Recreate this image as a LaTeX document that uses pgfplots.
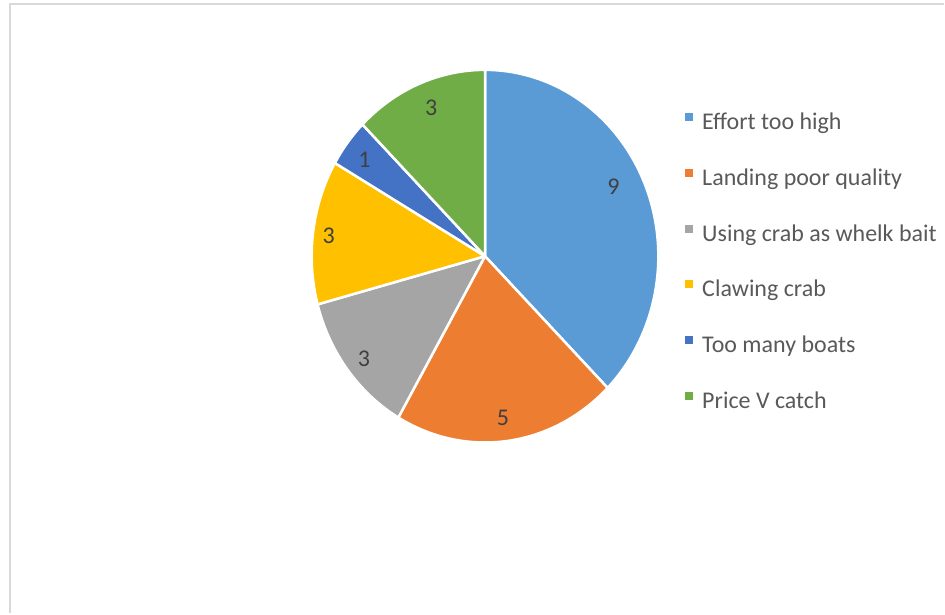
\documentclass[border=0pt]{standalone}
\usepackage{fontspec}
\setmainfont{Carlito}
\usepackage{pgfplots}
\usepackage{pgfplotstable}
\pgfplotsset{compat=1.18}
\definecolor{cA}{HTML}{5B9BD5}
\definecolor{cB}{HTML}{ED7D31}
\definecolor{cC}{HTML}{A5A5A5}
\definecolor{cD}{HTML}{FFC000}
\definecolor{cE}{HTML}{4472C4}
\definecolor{cF}{HTML}{70AD47}
\definecolor{labgray}{HTML}{404040}
\definecolor{leggray}{HTML}{595959}
\definecolor{bordergray}{HTML}{D9D9D9}
\pgfplotstableread[col sep=comma]{
label,value,col
Effort too high,9,cA
Landing poor quality,5,cB
Using crab as whelk bait,3,cC
Clawing crab,3,cD
Too many boats,1,cE
Price V catch,3,cF
}\piedata
\pgfplotstableread{
x y lab
0.741 0.373 9
0.103 -0.868 5
-0.699 -0.551 3
-0.902 0.110 3
-0.695 0.517 1
-0.310 0.795 3
}\labdata
\begin{document}
\begin{tikzpicture}
\begin{axis}[
  scale only axis, width=945pt, height=614pt,
  xmin=-2.798, xmax=2.648, ymin=-1.917, ymax=1.375,
  hide axis, clip=false,
  legend cell align=left,
  legend image code/.code={\fill[#1, draw=none] (0pt,3pt) rectangle (8pt,11pt);},
  legend style={at={(rel axis cs:0.7259,0.816)}, anchor=north west,
    draw=none, fill=none, inner sep=0pt, outer sep=0pt,
    font=\fontsize{24}{28}\selectfont, text=leggray,
    row sep=34.4pt,
    nodes={inner sep=0pt, text height=16pt, text depth=5pt},
    /tikz/every odd column/.append style={column sep=9pt}},
]
\path (rel axis cs:0,0) rectangle (rel axis cs:1,1);
\draw[bordergray, line width=2pt] (rel axis cs:0.0111,0) -- (rel axis cs:0.0111,0.9927) -- (rel axis cs:1,0.9927);
\def\cumangle{90}
\pgfplotsforeachungrouped \i in {0,...,5}{%
  \pgfplotstablegetelem{\i}{value}\of\piedata \let\val\pgfplotsretval
  \pgfplotstablegetelem{\i}{col}\of\piedata \let\col\pgfplotsretval
  \pgfplotstablegetelem{\i}{label}\of\piedata \let\lab\pgfplotsretval
  \pgfmathsetmacro\endangle{\cumangle-360*\val/24}%
  \edef\temp{\noexpand\addplot[fill=\col, draw=white, line width=2.5pt, line join=round, domain=\endangle:\cumangle, samples=120] ({cos(x)},{sin(x)}) -- (axis cs:0,0) -- cycle; \noexpand\addlegendentry{\lab}}%
  \temp
  \global\let\cumangle\endangle
}
\addplot[forget plot, draw=none, mark=none, nodes near coords, point meta=explicit symbolic,
  nodes near coords style={anchor=center, inner sep=0pt, font=\fontsize{24}{28}\selectfont, text=labgray}]
  table[x=x, y=y, meta=lab] {\labdata};
\end{axis}
\end{tikzpicture}
\end{document}
